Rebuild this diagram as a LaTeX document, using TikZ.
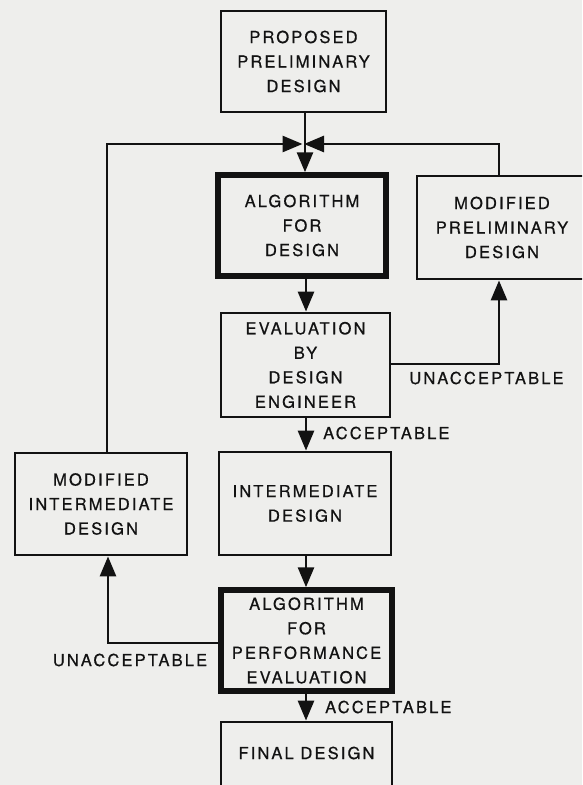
\documentclass[tikz,border=0pt]{standalone}
\usepackage{fontspec}
\setmainfont{TeX Gyre Heros}[LetterSpace=13, FakeBold=0.6]
\usetikzlibrary{arrows.meta}
\definecolor{paper}{RGB}{238,238,236}
\definecolor{ink}{RGB}{18,18,18}
\tikzset{
  box/.style={draw=ink, line width=2.8pt, fill=paper, align=center, inner sep=0pt,
              font=\fontsize{16.5}{24.5}\selectfont, text=ink},
  heavybox/.style={box, line width=5.5pt},
  flow/.style={draw=ink, line width=2.8pt, -{Triangle[width=16pt,length=20pt]}},
  tag/.style={font=\fontsize{16.5}{20}\selectfont, text=ink, inner sep=0pt}
}
\begin{document}
\begin{tikzpicture}[x=1pt,y=-1pt]
  \fill[paper] (0,0) rectangle (582,785);
  \useasboundingbox (0,0) rectangle (582,785);
  \clip (0,0) rectangle (582,785);

  % process boxes
  \node[box, minimum width=165, minimum height=101] (prop) at (303.5,61.5)
    {PROPOSED\\PRELIMINARY\\DESIGN};
  \node[heavybox, minimum width=168, minimum height=101] (alg) at (302,225.5)
    {ALGORITHM\\FOR\\DESIGN};
  \node[box, minimum width=169, minimum height=104] (eval) at (305.5,365)
    {EVALUATION\\BY\\DESIGN\\ENGINEER};
  \node[box, minimum width=172, minimum height=103] (inter) at (305,503.5)
    {INTERMEDIATE\\DESIGN};
  \node[heavybox, minimum width=171, minimum height=101] (perf) at (306.5,640.5)
    {ALGORITHM\\FOR\\PERFORMANCE\\EVALUATION};
  \node[box, minimum width=171, minimum height=76,
        label={[tag, yshift=7pt]center:FINAL DESIGN}] (final) at (306.5,760) {};
  \node[box, minimum width=170, minimum height=103] (modprel) at (502,227.5)
    {MODIFIED\\PRELIMINARY\\DESIGN};
  \node[box, minimum width=172, minimum height=102] (modint) at (101,504)
    {MODIFIED\\INTERMEDIATE\\DESIGN};

  % routing points
  \coordinate (J) at (305,144);
  \coordinate (L) at (107,144);
  \coordinate (R) at (499,144);
  \coordinate (Ru) at (499,364);
  \coordinate (Lu) at (108,643);

  % main downward flow
  \draw[flow] (J |- prop.south) -- (J |- alg.north);
  \draw[flow] (306,0 |- alg.south) -- (306,0 |- eval.north);
  \draw[flow] (306,0 |- eval.south) -- (306,0 |- inter.north);
  \draw[flow] (306,0 |- inter.south) -- (306,0 |- perf.north);
  \draw[flow] (306,0 |- perf.south) -- (306,0 |- final.north);

  % feedback loops into the junction
  \draw[flow, shorten >=2.5pt] (L |- modint.north) -- (L) -- (J);
  \draw[flow, shorten >=-1pt] (R |- modprel.north) -- (R) -- (J);

  % rejection branches
  \draw[flow] (eval.east |- Ru) -- (Ru) -- (Ru |- modprel.south);
  \draw[flow] (perf.west |- Lu) -- (Lu) -- (Lu |- modint.south);

  % branch labels
  \node[tag, anchor=west] (acc1) at (323,433) {ACCEPTABLE};
  \node[tag] (unacc1) at (486.5,378) {UNACCEPTABLE};
  \node[tag] (unacc2) at (130,660) {UNACCEPTABLE};
  \node[tag, anchor=west] (acc2) at (325,707) {ACCEPTABLE};
\end{tikzpicture}
\end{document}
